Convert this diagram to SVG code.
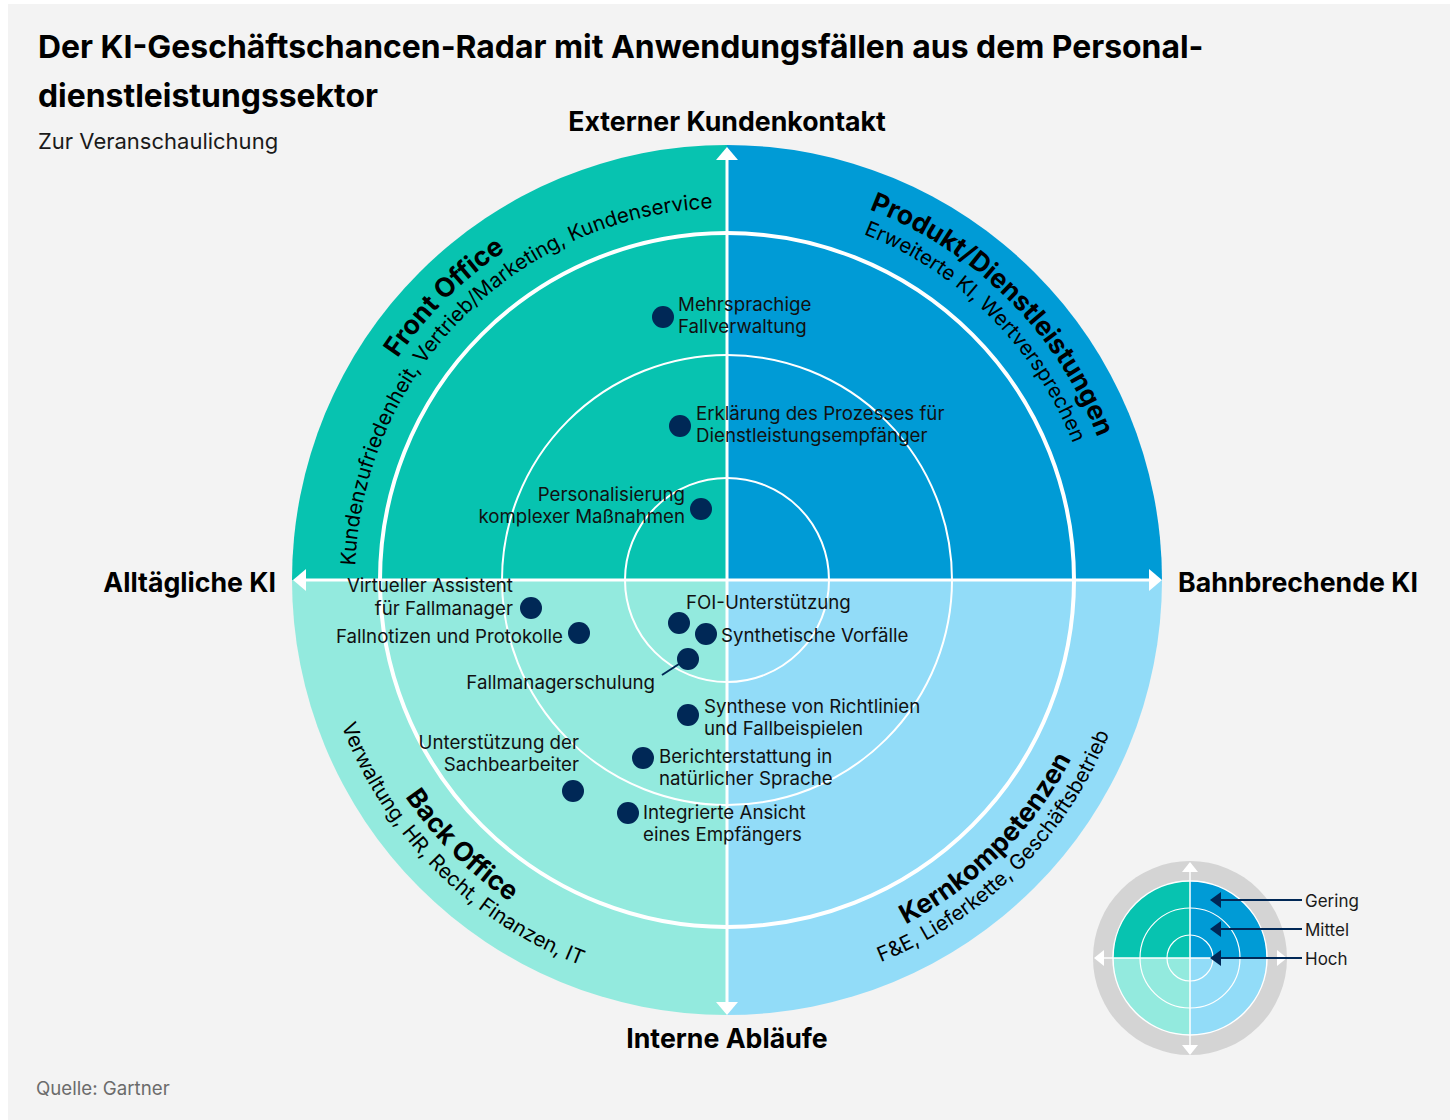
<svg xmlns="http://www.w3.org/2000/svg" xmlns:xlink="http://www.w3.org/1999/xlink" width="1455" height="1120" viewBox="0 0 1455 1120">
<style>
.t{font-family:Inter,"Liberation Sans",sans-serif;}
.title{font-size:31.9px;font-weight:700;fill:#000;}
.sub{font-size:22px;fill:#1a1a1a;}
.axl{font-size:26.7px;font-weight:700;fill:#000;}
.lbl{font-size:18.7px;fill:#111;}
.qb{font-size:26.5px;font-weight:700;fill:#000;}
.qr{font-size:20.6px;fill:#000;}
.src{font-size:18.7px;fill:#6b6b6b;}
.leg{font-size:17px;fill:#1a1a1a;}
.dot{fill:#002856;}
.ring{fill:none;stroke:#fff;}
.ax{stroke:#fff;stroke-width:3;fill:none;}
.arr{fill:#fff;}
</style>
<defs>
<path id="pTLr" d="M355 580 A372 372 0 0 1 727 208"/>
<path id="pTLb" d="M330 580 A397 397 0 0 1 727 183"/>
<path id="pTRb" d="M727 183 A397 397 0 0 1 1124 580"/>
<path id="pTRr" d="M727 208 A372 372 0 0 1 1099 580"/>
<path id="pBLb" d="M339 580 A388 388 0 0 0 727 968"/>
<path id="pBLr" d="M315 580 A412 412 0 0 0 727 992"/>
<path id="pBRb" d="M727 968 A388 388 0 0 0 1115 580"/>
<path id="pBRr" d="M727 992 A412 412 0 0 0 1139 580"/>
</defs>
<rect x="0" y="0" width="1455" height="1120" fill="#fff"/>
<rect x="8" y="4" width="1442" height="1116" fill="#f3f3f3"/>

<g id="header" class="t">
<text class="title" x="38" y="58">Der KI-Geschäftschancen-Radar mit Anwendungsfällen aus dem Personal-</text>
<text class="title" x="38" y="107">dienstleistungssektor</text>
<text class="sub" x="38" y="149">Zur Veranschaulichung</text>
</g>

<g id="quadrant-front-office">
<path d="M727 580 L292 580 A435 435 0 0 1 727 145 Z" fill="#07c3b0"/>
<text class="t qb"><textPath href="#pTLb" startOffset="50%" text-anchor="middle">Front Office</textPath></text>
<text class="t qr"><textPath href="#pTLr" startOffset="50%" text-anchor="middle">Kundenzufriedenheit, Vertrieb/Marketing, Kundenservice</textPath></text>
</g>
<g id="quadrant-produkt">
<path d="M727 580 L727 145 A435 435 0 0 1 1162 580 Z" fill="#009bd6"/>
<text class="t qb"><textPath href="#pTRb" startOffset="50%" text-anchor="middle">Produkt/Dienstleistungen</textPath></text>
<text class="t qr"><textPath href="#pTRr" startOffset="50%" text-anchor="middle">Erweiterte KI, Wertversprechen</textPath></text>
</g>
<g id="quadrant-kernkompetenzen">
<path d="M727 580 L1162 580 A435 435 0 0 1 727 1015 Z" fill="#92dcf8"/>
<text class="t qb"><textPath href="#pBRb" startOffset="50%" text-anchor="middle">Kernkompetenzen</textPath></text>
<text class="t qr"><textPath href="#pBRr" startOffset="50%" text-anchor="middle">F&amp;E, Lieferkette, Geschäftsbetrieb</textPath></text>
</g>
<g id="quadrant-back-office">
<path d="M727 580 L727 1015 A435 435 0 0 1 292 580 Z" fill="#93eade"/>
<text class="t qb"><textPath href="#pBLb" startOffset="50%" text-anchor="middle">Back Office</textPath></text>
<text class="t qr"><textPath href="#pBLr" startOffset="50%" text-anchor="middle">Verwaltung, HR, Recht, Finanzen, IT</textPath></text>
</g>

<g id="rings">
<circle class="ring" cx="727" cy="580" r="347" stroke-width="4"/>
<circle class="ring" cx="727" cy="580" r="225" stroke-width="2"/>
<circle class="ring" cx="727" cy="580" r="102" stroke-width="2"/>
</g>

<g id="axes">
<line class="ax" x1="305" y1="580" x2="1150" y2="580"/>
<line class="ax" x1="727" y1="159" x2="727" y2="1003"/>
<polygon class="arr" points="727,147 738,160 716,160"/>
<polygon class="arr" points="727,1015 738,1002 716,1002"/>
<polygon class="arr" points="293,580 306,569 306,591"/>
<polygon class="arr" points="1162,580 1149,569 1149,591"/>
</g>

<g id="axis-labels" class="t axl">
<text x="727" y="131" text-anchor="middle">Externer Kundenkontakt</text>
<text x="727" y="1048" text-anchor="middle">Interne Abläufe</text>
<text x="276" y="592" text-anchor="end">Alltägliche KI</text>
<text x="1178" y="592">Bahnbrechende KI</text>
</g>

<g id="connectors">
<line x1="662" y1="675" x2="679" y2="664" stroke="#002856" stroke-width="2"/>
</g>

<g class="t lbl">
<g id="p-mehrsprachige"><circle class="dot" cx="663" cy="317" r="11"/><text x="678" y="311">Mehrsprachige</text><text x="678" y="333">Fallverwaltung</text></g>
<g id="p-erklaerung"><circle class="dot" cx="680" cy="426" r="11"/><text x="696" y="420">Erklärung des Prozesses für</text><text x="696" y="442">Dienstleistungsempfänger</text></g>
<g id="p-personalisierung"><circle class="dot" cx="701" cy="509" r="11"/><text x="685" y="501" text-anchor="end">Personalisierung</text><text x="685" y="523" text-anchor="end">komplexer Maßnahmen</text></g>
<g id="p-virtueller"><circle class="dot" cx="531" cy="608" r="11"/><text x="513" y="592" text-anchor="end">Virtueller Assistent</text><text x="513" y="615" text-anchor="end">für Fallmanager</text></g>
<g id="p-fallnotizen"><circle class="dot" cx="579" cy="633" r="11"/><text x="563" y="643" text-anchor="end">Fallnotizen und Protokolle</text></g>
<g id="p-foi"><circle class="dot" cx="679" cy="623" r="11"/><text x="686" y="609">FOI-Unterstützung</text></g>
<g id="p-synthetische"><circle class="dot" cx="706" cy="634" r="11"/><text x="721" y="642">Synthetische Vorfälle</text></g>
<g id="p-fallmanagerschulung"><circle class="dot" cx="688" cy="659" r="11"/><text x="655" y="689" text-anchor="end">Fallmanagerschulung</text></g>
<g id="p-synthese"><circle class="dot" cx="688" cy="715" r="11"/><text x="704" y="713">Synthese von Richtlinien</text><text x="704" y="735">und Fallbeispielen</text></g>
<g id="p-berichterstattung"><circle class="dot" cx="643" cy="758" r="11"/><text x="659" y="763">Berichterstattung in</text><text x="659" y="785">natürlicher Sprache</text></g>
<g id="p-unterstuetzung"><circle class="dot" cx="573" cy="791" r="11"/><text x="579" y="749" text-anchor="end">Unterstützung der</text><text x="579" y="771" text-anchor="end">Sachbearbeiter</text></g>
<g id="p-integrierte"><circle class="dot" cx="628" cy="813" r="11"/><text x="643" y="819">Integrierte Ansicht</text><text x="643" y="841">eines Empfängers</text></g>
</g>

<g id="legend">
<circle cx="1190" cy="958" r="97" fill="#d4d4d4"/>
<path d="M1190 958 L1113 958 A77 77 0 0 1 1190 881 Z" fill="#07c3b0"/>
<path d="M1190 958 L1190 881 A77 77 0 0 1 1267 958 Z" fill="#009bd6"/>
<path d="M1190 958 L1267 958 A77 77 0 0 1 1190 1035 Z" fill="#92dcf8"/>
<path d="M1190 958 L1190 1035 A77 77 0 0 1 1113 958 Z" fill="#93eade"/>
<circle class="ring" cx="1190" cy="958" r="77" stroke-width="1.5"/>
<circle class="ring" cx="1190" cy="958" r="50" stroke-width="1.2"/>
<circle class="ring" cx="1190" cy="958" r="23" stroke-width="1.2"/>
<line x1="1103" y1="958" x2="1278" y2="958" stroke="#fff" stroke-width="1.5"/>
<line x1="1190" y1="871" x2="1190" y2="1046" stroke="#fff" stroke-width="1.5"/>
<polygon class="arr" points="1190,862 1198,872 1182,872"/>
<polygon class="arr" points="1190,1055 1198,1045 1182,1045"/>
<polygon class="arr" points="1094,958 1104,950 1104,966"/>
<polygon class="arr" points="1287,958 1277,950 1277,966"/>
<g fill="#002856" stroke="#002856">
<polygon points="1210,900 1221,892 1221,908" stroke="none"/>
<line x1="1220" y1="900" x2="1302" y2="900" stroke-width="2"/>
<polygon points="1210,929 1221,921 1221,937" stroke="none"/>
<line x1="1220" y1="929" x2="1302" y2="929" stroke-width="2"/>
<polygon points="1210,958 1221,950 1221,966" stroke="none"/>
<line x1="1220" y1="958" x2="1302" y2="958" stroke-width="2"/>
</g>
<text class="t leg" x="1305" y="907">Gering</text>
<text class="t leg" x="1305" y="936">Mittel</text>
<text class="t leg" x="1305" y="965">Hoch</text>
</g>

<text id="source" class="t src" x="36" y="1095">Quelle: Gartner</text>
</svg>
